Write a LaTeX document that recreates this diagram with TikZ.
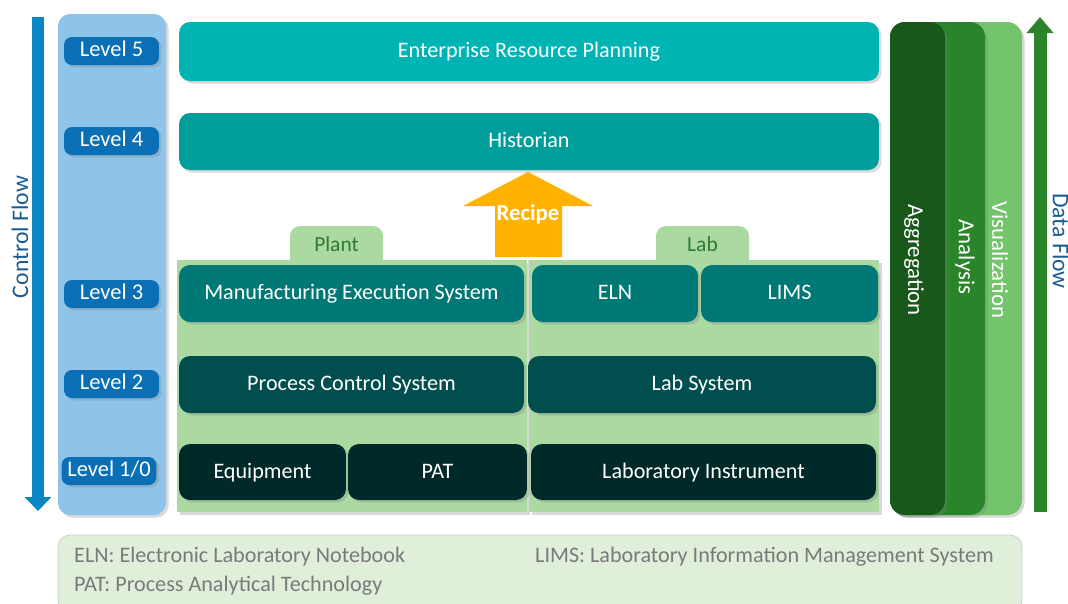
\documentclass[tikz,border=0pt]{standalone}
\usepackage{fontspec}
\setmainfont{Carlito}
\usetikzlibrary{arrows.meta,shadows}

\definecolor{colblue}{HTML}{8EC4E9}
\definecolor{lvlblue}{HTML}{0A6FB5}
\definecolor{ctrlblue}{HTML}{0A86C0}
\definecolor{flowtext}{HTML}{1B5C8F}
\definecolor{erpteal}{HTML}{00B4B4}
\definecolor{histteal}{HTML}{009E9A}
\definecolor{lthree}{HTML}{007875}
\definecolor{ltwo}{HTML}{004F4E}
\definecolor{lone}{HTML}{002A29}
\definecolor{panelgreen}{HTML}{AADAA2}
\definecolor{tabtext}{HTML}{2F7A30}
\definecolor{recipe}{HTML}{FFB300}
\definecolor{aggr}{HTML}{18581A}
\definecolor{anal}{HTML}{2A852A}
\definecolor{visu}{HTML}{74C46C}
\definecolor{footfill}{HTML}{DFEFD9}
\definecolor{foottext}{HTML}{7A7A7A}

\tikzset{
  shade/.style={drop shadow={opacity=0.3, shadow xshift=0.05cm, shadow yshift=-0.05cm}},
  lvl/.style={rounded corners=0.16cm, fill=lvlblue, text=white, shade,
    minimum width=1.9cm, minimum height=0.56cm, inner xsep=1pt,
    text height=1.6ex, text depth=0.2ex, font=\fontsize{12.8}{14}\selectfont},
  sysbox/.style={rounded corners=0.22cm, text=white, shade, minimum height=1.14cm,
    text height=1.7ex, text depth=0.2ex, font=\fontsize{12.6}{14}\selectfont},
  pillar/.style={rounded corners=0.3cm, shade},
  vtext/.style={rotate=-90, text=white, font=\fontsize{13}{15}\selectfont},
  legend/.style={anchor=west, text=foottext, font=\fontsize{12.6}{14}\selectfont},
}

\begin{document}
\begin{tikzpicture}[x=0.02cm, y=-0.02cm]
\useasboundingbox (0,0) rectangle (1068,603);

% control flow
\draw[ctrlblue, line width=0.26cm, -{Triangle[width=0.52cm,length=0.28cm]}] (38,17) -- (38,511);
\node[rotate=90, text=flowtext, font=\fontsize{13.5}{15}\selectfont] (ctrl) at (20,237) {Control Flow};

% level column
\fill[colblue, rounded corners=0.24cm, shade] (58,14) rectangle (166,515);
\node[lvl] (lv5) at (111.5,51) {Level 5};
\node[lvl] (lv4) at (111.5,141) {Level 4};
\node[lvl] (lv3) at (111.5,294) {Level 3};
\node[lvl] (lv2) at (111.5,384) {Level 2};
\node[lvl] (lv1) at (109,471) {Level 1/0};

% plant and lab panels
\fill[panelgreen, rounded corners=0.2cm] (290,226) rectangle (383,270);
\fill[panelgreen, rounded corners=0.2cm] (656,226) rectangle (749,270);
\node[text=tabtext, font=\fontsize{12.2}{14}\selectfont] (plant) at (336.5,244) {Plant};
\node[text=tabtext, font=\fontsize{12.2}{14}\selectfont] (lab) at (702.5,244) {Lab};
\fill[panelgreen, shade] (177,260) rectangle (527,512);
\fill[panelgreen, shade] (529,260) rectangle (879,512);
\draw[black!15] (528,260) -- (528,512);

% recipe arrow
\fill[recipe] (495,257) -- (495,206) -- (463,206) -- (528,172) -- (593,206)
  -- (562,206) -- (562,257) -- cycle;
\node[text=white, font=\fontsize{13}{15}\bfseries] (rec) at (528,214) {Recipe};

% systems
\node[sysbox, fill=erpteal, minimum width=14cm, minimum height=1.18cm] (erp) at (529,51.5) {Enterprise Resource Planning};
\node[sysbox, fill=histteal, minimum width=14cm] (hist) at (529,141.5) {Historian};
\node[sysbox, fill=lthree, minimum width=6.9cm] (mes) at (351.5,293.5) {Manufacturing Execution System};
\node[sysbox, fill=lthree, minimum width=3.32cm] (eln) at (615,293.5) {ELN};
\node[sysbox, fill=lthree, minimum width=3.54cm] (lims) at (789.5,293.5) {LIMS};
\node[sysbox, fill=ltwo, minimum width=6.9cm] (pcs) at (351.5,384.5) {Process Control System};
\node[sysbox, fill=ltwo, minimum width=6.96cm] (labsys) at (702,384.5) {Lab System};
\node[sysbox, fill=lone, minimum width=3.34cm, minimum height=1.12cm] (equip) at (262.5,472) {Equipment};
\node[sysbox, fill=lone, minimum width=3.58cm, minimum height=1.12cm] (pat) at (437.5,472) {PAT};
\node[sysbox, fill=lone, minimum width=6.9cm, minimum height=1.12cm] (labinst) at (703.5,472) {Laboratory Instrument};

% data pillars
\fill[visu, pillar] (890,22) rectangle (1022,515);
\fill[anal, pillar] (890,22) rectangle (985,515);
\fill[aggr, pillar] (890,22) rectangle (945,515);
\node[vtext] (aggn) at (914,260) {Aggregation};
\node[vtext] (anan) at (965,257) {Analysis};
\node[vtext] (visn) at (1000,260) {Visualization};

% data flow
\draw[anal, line width=0.26cm, -{Triangle[width=0.52cm,length=0.32cm]}] (1040,512) -- (1040,17);
\node[rotate=-90, text=flowtext, font=\fontsize{13.5}{15}\selectfont] (data) at (1061,241) {Data Flow};

% legend
\filldraw[fill=footfill, draw=black!20, rounded corners=0.24cm] (58,535) rectangle (1022,612);
\node[legend] (lg1) at (68,557) {ELN: Electronic Laboratory Notebook};
\node[legend] (lg2) at (68,586) {PAT: Process Analytical Technology};
\node[legend] (lg3) at (529,557) {LIMS: Laboratory Information Management System};
\end{tikzpicture}
\end{document}
